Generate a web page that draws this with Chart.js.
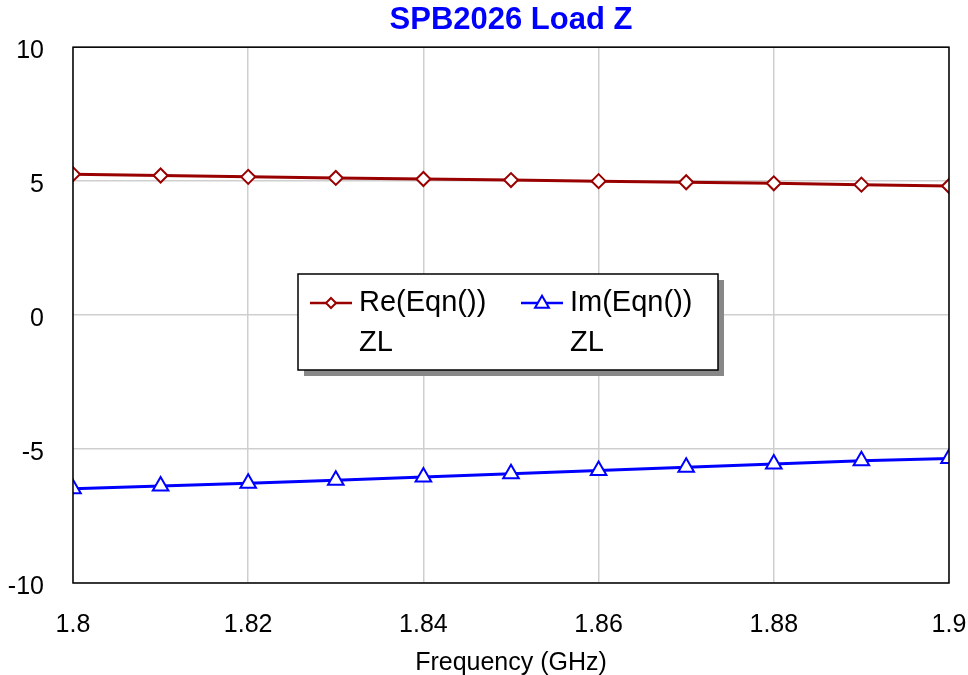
<!DOCTYPE html>
<html>
<head>
<meta charset="utf-8">
<script src="https://cdn.jsdelivr.net/npm/chart.js@4/dist/chart.umd.min.js"></script>
<style>
    html, body { margin: 0; padding: 0; background: #fff; }
    #wrap { width: 968px; height: 675px; }
</style>
</head>
<body>
<div id="wrap"><canvas id="loadZ" width="968" height="675"></canvas></div>
<script>
// frequency points (GHz) and load impedance ZL (ohms)
const freqs = [1.8, 1.81, 1.82, 1.83, 1.84, 1.85, 1.86, 1.87, 1.88, 1.89, 1.9];
const reZL = [5.26, 5.21, 5.16, 5.12, 5.08, 5.04, 5.00, 4.96, 4.92, 4.87, 4.82];
const imZL = [-6.48, -6.38, -6.28, -6.16, -6.04, -5.92, -5.80, -5.68, -5.56, -5.44, -5.35];
const xTicks = [1.8, 1.82, 1.84, 1.86, 1.88, 1.9];
const yTicks = [-10, -5, 0, 5, 10];

const FONT = 'Liberation Sans, Arial, sans-serif';
const RE_COLOR = '#990000';
const IM_COLOR = '#0000ff';

// black box round the plot area
const framePlugin = {
    id: 'frame',
    afterDatasetsDraw(chart) {
        const a = chart.chartArea;
        const ctx = chart.ctx;
        ctx.save();
        ctx.strokeStyle = '#000';
        ctx.lineWidth = 1.5;
        ctx.strokeRect(a.left, a.top, a.right - a.left, a.bottom - a.top);
        ctx.restore();
    }
};

const drawMarker = (ctx, style, x, y, r) => {
    ctx.beginPath();
    if (style === 'rectRot') {
        ctx.moveTo(x, y - r);
        ctx.lineTo(x + r, y);
        ctx.lineTo(x, y + r);
        ctx.lineTo(x - r, y);
    } else {
        const h = r * 1.5;
        const w = r * 0.866;
        ctx.moveTo(x, y - h * 0.6);
        ctx.lineTo(x + w, y + h * 0.4);
        ctx.lineTo(x - w, y + h * 0.4);
    }
    ctx.closePath();
    ctx.fill();
    ctx.stroke();
};

// legend box in the middle of the plot, with a drop shadow
const boxLegend = {
    id: 'boxLegend',
    afterDraw(chart) {
        const ctx = chart.ctx;
        const x = 298, y = 274, w = 420, h = 96;
        ctx.save();
        ctx.fillStyle = '#888';
        ctx.fillRect(x + 6, y + 6, w, h);
        ctx.fillStyle = '#fff';
        ctx.fillRect(x, y, w, h);
        ctx.strokeStyle = '#000';
        ctx.lineWidth = 1.5;
        ctx.strokeRect(x, y, w, h);

        const items = [
            { ds: chart.data.datasets[0], lx: 310, tx: 359, r: 5 },
            { ds: chart.data.datasets[1], lx: 521, tx: 570, r: 8 }
        ];
        items.forEach(it => {
            ctx.strokeStyle = it.ds.borderColor;
            ctx.lineWidth = 2.5;
            ctx.beginPath();
            ctx.moveTo(it.lx, y + 29);
            ctx.lineTo(it.lx + 42, y + 29);
            ctx.stroke();
            ctx.fillStyle = '#fff';
            ctx.lineWidth = 2;
            drawMarker(ctx, it.ds.pointStyle, it.lx + 21, y + 29, it.r);
            ctx.fillStyle = '#000';
            ctx.font = '29px ' + FONT;
            ctx.textBaseline = 'alphabetic';
            ctx.fillText(it.ds.label, it.tx, y + 37);
            ctx.fillText('ZL', it.tx, y + 77);
        });
        ctx.restore();
    }
};

const fmt = v => String(parseFloat(Number(v).toFixed(2)));

new Chart(document.getElementById('loadZ').getContext('2d'), {
    type: 'line',
    data: {
        datasets: [
            {
                label: 'Re(Eqn())',
                data: freqs.map((f, i) => ({ x: f, y: reZL[i] })),
                borderColor: RE_COLOR,
                backgroundColor: '#fff',
                borderWidth: 3,
                pointStyle: 'rectRot',
                pointRadius: 7,
                pointBorderWidth: 2,
                pointBackgroundColor: '#fff',
                pointBorderColor: RE_COLOR,
                tension: 0,
                clip: 0
            },
            {
                label: 'Im(Eqn())',
                data: freqs.map((f, i) => ({ x: f, y: imZL[i] })),
                borderColor: IM_COLOR,
                backgroundColor: '#fff',
                borderWidth: 3,
                pointStyle: 'triangle',
                pointRadius: 9,
                pointBorderWidth: 2,
                pointBackgroundColor: '#fff',
                pointBorderColor: IM_COLOR,
                tension: 0,
                clip: 0
            }
        ]
    },
    options: {
        responsive: false,
        animation: false,
        layout: { padding: { left: 0, right: 19, top: 0, bottom: 0 } },
        scales: {
            x: {
                type: 'linear',
                min: 1.8,
                max: 1.9,
                afterFit: (scale) => {
                    scale.height = 92;
                    scale.paddingLeft = 0;
                    scale.paddingRight = 0;
                },
                afterBuildTicks: (scale) => { scale.ticks = xTicks.map(v => ({ value: v })); },
                grid: { color: '#cfcfcf', lineWidth: 1.5, drawTicks: false },
                border: { display: false },
                ticks: {
                    color: '#000',
                    font: { family: FONT, size: 25 },
                    padding: 27,
                    maxRotation: 0,
                    autoSkip: false,
                    callback: (v) => fmt(v)
                },
                title: {
                    display: true,
                    text: 'Frequency (GHz)',
                    color: '#000',
                    font: { family: FONT, size: 25 },
                    padding: { top: 0, bottom: -3 }
                }
            },
            y: {
                min: -10,
                max: 10,
                afterFit: (scale) => { scale.width = 73; },
                afterBuildTicks: (scale) => { scale.ticks = yTicks.map(v => ({ value: v })); },
                grid: { color: '#cfcfcf', lineWidth: 1.5, drawTicks: false },
                border: { display: false },
                ticks: {
                    color: '#000',
                    font: { family: FONT, size: 25 },
                    padding: 29,
                    labelOffset: 4,
                    callback: (v) => fmt(v)
                }
            }
        },
        plugins: {
            legend: { display: false },
            tooltip: { enabled: false },
            title: {
                display: true,
                fullSize: false,
                text: 'SPB2026 Load Z',
                color: '#0000ff',
                font: { family: FONT, size: 31, weight: 'bold' },
                padding: { top: 2, bottom: 8 }
            }
        }
    },
    plugins: [framePlugin, boxLegend]
});
</script>
</body>
</html>
